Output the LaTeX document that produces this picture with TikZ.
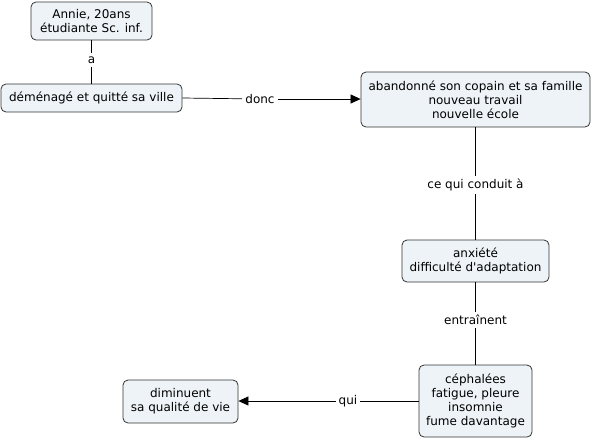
\documentclass[tikz,border=0pt]{standalone}
\usepackage{fontspec}
\setmainfont{DejaVu Sans}
\usetikzlibrary{arrows.meta}
\definecolor{boxfill}{HTML}{EDF3F6}
\definecolor{boxline}{HTML}{333333}
\tikzset{
  concept/.style={draw=boxline, fill=boxfill, rounded corners=5pt, align=center,
    font=\fontsize{12}{14}\selectfont, inner sep=2pt, line width=0.8pt},
  linklabel/.style={fill=white, font=\fontsize{12}{14}\selectfont, inner sep=3pt},
  conn/.style={draw=black, line width=0.7pt},
  arr/.style={conn, -{Triangle[length=10pt, width=9pt]}}
}
\begin{document}
\begin{tikzpicture}[x=1pt, y=-1pt]
\useasboundingbox (0,0) rectangle (593,440);
\node[concept, minimum width=121pt, minimum height=38pt] (annie) at (91.5,21) {Annie, 20ans\\étudiante Sc. inf.};
\node[concept, minimum width=181pt, minimum height=28pt] (dem) at (91.5,98) {déménagé et quitté sa ville};
\node[concept, minimum width=229pt, minimum height=55pt] (aband) at (475.5,99.5) {abandonné son copain et sa famille\\nouveau travail\\nouvelle école};
\node[concept, minimum width=147pt, minimum height=42pt] (anx) at (475.5,261) {anxiété\\difficulté d\textquotesingle adaptation};
\node[concept, minimum width=113pt, minimum height=72pt] (ceph) at (475.5,401) {céphalées\\fatigue, pleure\\insomnie\\fume davantage};
\node[concept, minimum width=115pt, minimum height=43pt] (dimi) at (180.5,401.5) {diminuent\\sa qualité de vie};

\node[linklabel] (la) at (91.5,60) {a};
\node[linklabel] (ldonc) at (260,99) {donc};
\node[linklabel] (lce) at (475.5,185) {ce qui conduit à};
\node[linklabel] (lent) at (475.5,320) {entraînent};
\node[linklabel] (lqui) at (348,401) {qui};

\draw[conn] (annie) -- (la);
\draw[conn] (la) -- (dem);
\draw[conn] (dem.east) -- (ldonc);
\draw[arr] (ldonc) -- (aband.west |- ldonc);
\draw[conn] (aband) -- (lce);
\draw[conn] (lce) -- (anx);
\draw[conn] (anx) -- (lent);
\draw[conn] (lent) -- (ceph);
\draw[conn] (ceph.west |- lqui) -- (lqui);
\draw[arr] (lqui) -- (dimi.east |- lqui);
\end{tikzpicture}
\end{document}
